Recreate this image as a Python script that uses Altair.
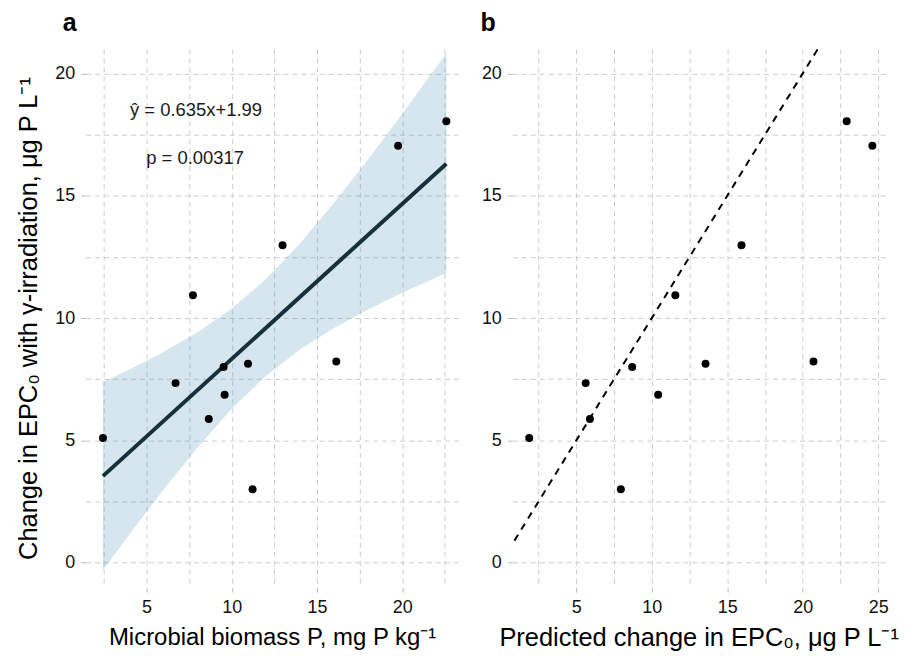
import altair as alt
import pandas as pd

# ---- data ----
microbial_p = [2.44, 6.70, 7.72, 8.65, 9.52, 9.58, 10.95, 11.22, 12.98, 16.13, 19.76, 22.59]
epc_change = [5.10, 7.34, 10.93, 5.87, 8.00, 6.86, 8.13, 3.00, 12.98, 8.22, 17.04, 18.04]
predicted_change = [1.88, 5.62, 11.56, 5.90, 8.70, 10.42, 13.56, 7.95, 15.94, 20.71, 24.61, 22.91]

band_x = [2.44, 4, 6, 8, 10, 12, 14, 16, 18, 20, 22.59]
band_lo = [-0.31, 1.16, 2.99, 4.72, 6.29, 7.63, 8.71, 9.59, 10.35, 11.03, 11.84]
band_hi = [7.39, 7.90, 8.61, 9.42, 10.39, 11.59, 13.05, 14.71, 16.49, 18.35, 20.82]

ann_text = ["ŷ = 0.635x+1.99", "p = 0.00317"]
ann_x = [7.9, 7.85]
ann_y = [18.24, 16.31]

identity_x = [0, 30]
identity_y = [0, 30]

xa_ticks = [2.5, 5, 7.5, 10, 12.5, 15, 17.5, 20, 22.5]
xb_ticks = [2.5, 5, 7.5, 10, 12.5, 15, 17.5, 20, 22.5, 25]
y_ticks = [0, 2.5, 5, 7.5, 10, 12.5, 15, 17.5, 20]

pts_a = pd.DataFrame({"x": microbial_p, "y": epc_change})
pts_b = pd.DataFrame({"x": predicted_change, "y": epc_change})
band = pd.DataFrame({"x": band_x, "lo": band_lo, "hi": band_hi})
ann = pd.DataFrame({"x": ann_x, "y": ann_y, "t": ann_text})
ident = pd.DataFrame({"x": identity_x, "y": identity_y})

FONT = "Liberation Sans"
major_expr = "datum.value % 5 === 0 ? datum.label : ''"
tick_op = {"condition": {"test": "datum.value % 5 === 0", "value": 1}, "value": 0}

W, H = 374, 540

ya_scale = alt.Scale(domain=[-1, 21], nice=False, zero=False)

y_axis_a = alt.Axis(values=y_ticks, labelExpr=major_expr, tickOpacity=tick_op,
                    title="Change in EPC₀ with γ-irradiation, μg P L⁻¹",
                    titlePadding=13, titleFontSize=25.5, labelPadding=6)
y_axis_b = alt.Axis(values=y_ticks, labelExpr=major_expr, tickOpacity=tick_op, title=None,
                    labelPadding=6)

xa_scale = alt.Scale(domain=[1.43, 23.3], nice=False, zero=False)
xa_axis = alt.Axis(values=xa_ticks, labelExpr=major_expr, tickOpacity=tick_op,
                   title="Microbial biomass P, mg P kg⁻¹", titlePadding=10, labelPadding=6)

xb_scale = alt.Scale(domain=[0.76, 25.45], nice=False, zero=False)
xb_axis = alt.Axis(values=xb_ticks, labelExpr=major_expr, tickOpacity=tick_op,
                   title="Predicted change in EPC₀, μg P L⁻¹", titlePadding=10, labelPadding=6,
                   titleFontSize=25.5)

band_layer = alt.Chart(band).mark_area(color="#5b9bc0", opacity=0.25).encode(
    x=alt.X("x:Q", scale=xa_scale, axis=xa_axis),
    y=alt.Y("lo:Q", scale=ya_scale, axis=y_axis_a),
    y2="hi:Q",
)
fit_layer = alt.Chart(pts_a).transform_regression("x", "y", method="linear").mark_line(
    color="#16303c", strokeWidth=4
).encode(x=alt.X("x:Q", scale=xa_scale), y=alt.Y("y:Q", scale=ya_scale))
pts_a_layer = alt.Chart(pts_a).mark_circle(color="black", size=64, opacity=1).encode(
    x=alt.X("x:Q", scale=xa_scale), y=alt.Y("y:Q", scale=ya_scale)
)
ann_layer = alt.Chart(ann).mark_text(font=FONT, fontSize=18.5, color="#1a1a1a",
                                     align="center", baseline="alphabetic").encode(
    x=alt.X("x:Q", scale=xa_scale), y=alt.Y("y:Q", scale=ya_scale), text="t:N"
)

panel_a = alt.layer(band_layer, fit_layer, pts_a_layer, ann_layer).properties(
    width=W, height=H,
    title=alt.TitleParams("a", anchor="start", frame="group", fontSize=25, fontWeight="bold",
                          font=FONT, dx=-23, offset=13, color="black"),
)

ident_layer = alt.Chart(ident).mark_line(color="black", strokeWidth=2, strokeDash=[7, 6],
                                          clip=True).encode(
    x=alt.X("x:Q", scale=xb_scale, axis=xb_axis),
    y=alt.Y("y:Q", scale=ya_scale, axis=y_axis_b),
)
pts_b_layer = alt.Chart(pts_b).mark_circle(color="black", size=64, opacity=1).encode(
    x=alt.X("x:Q", scale=xb_scale), y=alt.Y("y:Q", scale=ya_scale)
)
panel_b = alt.layer(ident_layer, pts_b_layer).properties(
    width=W, height=H,
    title=alt.TitleParams("b", anchor="start", frame="group", fontSize=25, fontWeight="bold",
                          font=FONT, dx=-32, offset=13, color="black"),
)

chart = alt.hconcat(panel_a, panel_b, spacing=22).resolve_scale(y="independent").properties(
    padding={"left": 8, "top": 2, "right": 0, "bottom": 0}
).configure_view(stroke=None).configure_axis(
    domain=False, grid=True, gridColor="#cccccc", gridDash=[5, 4], gridWidth=1,
    tickColor="#bbbbbb", tickSize=5, tickWidth=1,
    labelFont=FONT, labelFontSize=18, labelColor="#111111",
    titleFont=FONT, titleFontSize=24, titleFontWeight="normal", titleColor="black",
)

chart.save("out.html", embed_options={"renderer": "svg", "actions": False})
